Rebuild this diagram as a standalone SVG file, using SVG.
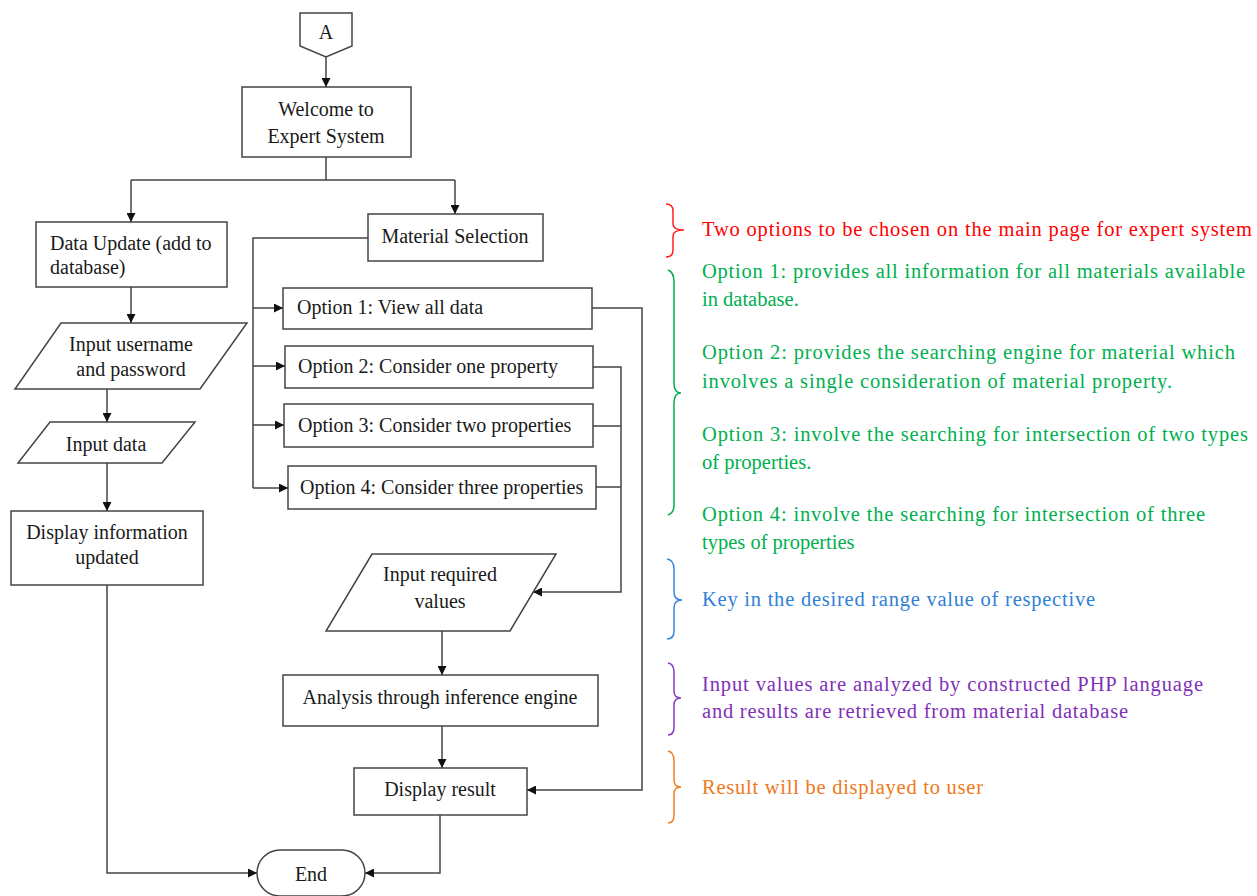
<svg xmlns="http://www.w3.org/2000/svg" width="1257" height="896" viewBox="0 0 1257 896">
<defs>
<marker id="arr" viewBox="0 0 10 10" refX="10" refY="5" markerWidth="9" markerHeight="9" markerUnits="userSpaceOnUse" orient="auto">
<path d="M0,0 L10,5 L0,10 Z" fill="#111"/>
</marker>
<style>
.shape{fill:#fff;stroke:#444;stroke-width:1.5}
.t{font-family:"Liberation Serif","Times New Roman",serif;font-size:20px;fill:#1a1a1a}
.c{text-anchor:middle}
.conn path{fill:none;stroke:#444;stroke-width:1.5}
.n{font-family:"Liberation Serif","Times New Roman",serif;font-size:20.5px}
.brace{fill:none;stroke-width:1.5}
</style>
</defs>
<rect width="1257" height="896" fill="#fff"/>

<g class="conn">
<path d="M326,57 L326,87" marker-end="url(#arr)"/>
<path d="M326,157 L326,180 M131,180 L455,180"/>
<path d="M131,180 L131,222" marker-end="url(#arr)"/>
<path d="M455,180 L455,214" marker-end="url(#arr)"/>
<path d="M131,287 L131,323" marker-end="url(#arr)"/>
<path d="M107,389 L107,422" marker-end="url(#arr)"/>
<path d="M107,463 L107,511" marker-end="url(#arr)"/>
<path d="M107,585 L107,873 L257,873" marker-end="url(#arr)"/>
<path d="M368,238 L253,238 L253,488"/>
<path d="M253,308 L283,308" marker-end="url(#arr)"/>
<path d="M253,366 L285,366" marker-end="url(#arr)"/>
<path d="M253,425 L284,425" marker-end="url(#arr)"/>
<path d="M253,488 L288,488" marker-end="url(#arr)"/>
<path d="M592,308 L642,308 L642,790 L527,790" marker-end="url(#arr)"/>
<path d="M593,367 L621,367 L621,592 L533,592" marker-end="url(#arr)"/>
<path d="M593,426 L621,426 M596,487 L621,487"/>
<path d="M442,631 L442,675" marker-end="url(#arr)"/>
<path d="M442,726 L442,768" marker-end="url(#arr)"/>
<path d="M440,815 L440,873 L365,873" marker-end="url(#arr)"/>
</g>

<g id="nodeA">
<path class="shape" d="M300,13 L352,13 L352,46 L326,57 L300,46 Z"/>
<text class="t c" x="326" y="39">A</text>
</g>
<g id="welcome">
<rect class="shape" x="242" y="87" width="169" height="70"/>
<text class="t c" x="326" y="116">Welcome to</text>
<text class="t c" x="326" y="143">Expert System</text>
</g>
<g id="dataUpdate">
<rect class="shape" x="36" y="222" width="191" height="65"/>
<text class="t" x="50" y="250">Data Update (add to</text>
<text class="t" x="50" y="274">database)</text>
</g>
<g id="inputUser">
<path class="shape" d="M61,323 L247,323 L200,389 L15,389 Z"/>
<text class="t c" x="131" y="351">Input username</text>
<text class="t c" x="131" y="376">and password</text>
</g>
<g id="inputData">
<path class="shape" d="M50,422 L195,422 L162,463 L18,463 Z"/>
<text class="t c" x="106" y="451">Input data</text>
</g>
<g id="displayInfo">
<rect class="shape" x="11" y="511" width="192" height="74"/>
<text class="t c" x="107" y="539">Display information</text>
<text class="t c" x="107" y="564">updated</text>
</g>
<g id="materialSel">
<rect class="shape" x="368" y="214" width="175" height="47"/>
<text class="t c" x="455" y="243">Material Selection</text>
</g>
<g id="opt1">
<rect class="shape" x="283" y="288" width="309" height="41"/>
<text class="t" x="297" y="314">Option 1: View all data</text>
</g>
<g id="opt2">
<rect class="shape" x="285" y="346" width="308" height="42"/>
<text class="t" x="298" y="373">Option 2: Consider one property</text>
</g>
<g id="opt3">
<rect class="shape" x="284" y="404" width="309" height="43"/>
<text class="t" x="298" y="432">Option 3: Consider two properties</text>
</g>
<g id="opt4">
<rect class="shape" x="288" y="466" width="308" height="43"/>
<text class="t" x="300" y="494">Option 4: Consider three properties</text>
</g>
<g id="inputReq">
<path class="shape" d="M372,554 L556,554 L510,631 L326,631 Z"/>
<text class="t c" x="440" y="581">Input required</text>
<text class="t c" x="440" y="608">values</text>
</g>
<g id="analysis">
<rect class="shape" x="283" y="675" width="315" height="51"/>
<text class="t c" x="440" y="704">Analysis through inference engine</text>
</g>
<g id="displayResult">
<rect class="shape" x="354" y="768" width="173" height="47"/>
<text class="t c" x="440" y="796">Display result</text>
</g>
<g id="end">
<rect class="shape" x="257" y="850" width="108" height="46" rx="23"/>
<text class="t c" x="311" y="881">End</text>
</g>

<g id="noteRed">
<path class="brace" stroke="#ff2020" d="M666,204 Q673,204 673,211 L673,224 Q673,230 684,230 Q673,230 673,236 L673,250 Q673,257 666,257"/>
<text class="n" fill="#ff0000" x="702" y="236" textLength="550" lengthAdjust="spacing">Two options to be chosen on the main page for expert system</text>
</g>
<g id="noteGreen">
<path class="brace" stroke="#00b050" d="M668,270 Q674,272 674,282 L674,383 Q674,393 681,393 Q674,393 674,403 L674,505 Q674,513 668,515"/>
<g class="n" fill="#00b050">
<text x="702" y="278" textLength="543" lengthAdjust="spacing">Option 1: provides all information for all materials available</text>
<text x="702" y="306">in database.</text>
<text x="702" y="359" textLength="533" lengthAdjust="spacing">Option 2: provides the searching engine for material which</text>
<text x="702" y="388" textLength="470" lengthAdjust="spacing">involves a single consideration of material property.</text>
<text x="702" y="441" textLength="546" lengthAdjust="spacing">Option 3: involve the searching for intersection of two types</text>
<text x="702" y="469">of properties.</text>
<text x="702" y="521" textLength="503" lengthAdjust="spacing">Option 4: involve the searching for intersection of three</text>
<text x="702" y="549">types of properties</text>
</g>
</g>
<g id="noteBlue">
<path class="brace" stroke="#3a86d8" d="M667,559 Q674,560 674,569 L674,592 Q674,600 682,600 Q674,600 674,608 L674,631 Q674,639 667,639"/>
<text class="n" fill="#2f80d8" x="702" y="606" textLength="393" lengthAdjust="spacing">Key in the desired range value of respective</text>
</g>
<g id="notePurple">
<path class="brace" stroke="#8a3cc0" d="M668,663 Q674,664 674,672 L674,691 Q674,698 681,698 Q674,698 674,705 L674,727 Q674,735 668,735"/>
<g class="n" fill="#8030b8">
<text x="702" y="691" textLength="501" lengthAdjust="spacing">Input values are analyzed by constructed PHP language</text>
<text x="702" y="718" textLength="426" lengthAdjust="spacing">and results are retrieved from material database</text>
</g>
</g>
<g id="noteOrange">
<path class="brace" stroke="#f08020" d="M668,751 Q674,752 674,761 L674,780 Q674,787 681,787 Q674,787 674,794 L674,815 Q674,823 668,823"/>
<text class="n" fill="#f07818" x="702" y="794" textLength="281" lengthAdjust="spacing">Result will be displayed to user</text>
</g>
</svg>
